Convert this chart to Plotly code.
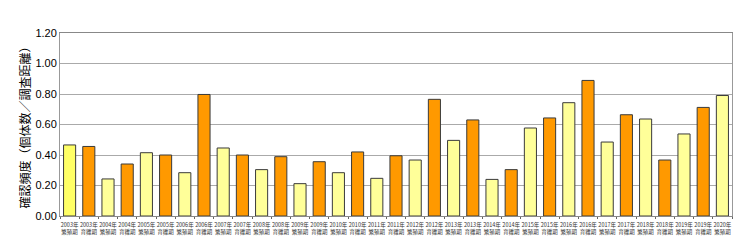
import plotly.graph_objects as go

years = [2003, 2003, 2004, 2004, 2005, 2005, 2006, 2006, 2007, 2007, 2008, 2008,
         2009, 2009, 2010, 2010, 2011, 2011, 2012, 2012, 2013, 2013, 2014, 2014,
         2015, 2015, 2016, 2016, 2017, 2017, 2018, 2018, 2019, 2019, 2020]
periods = ["繁殖期", "育雛期"] * 17 + ["繁殖期"]
categories = [f"{y}年<br>{p}" for y, p in zip(years, periods)]
values = [0.466, 0.456, 0.243, 0.341, 0.415, 0.400, 0.284, 0.797, 0.446, 0.400,
          0.304, 0.389, 0.212, 0.356, 0.284, 0.420, 0.247, 0.395, 0.367, 0.765,
          0.496, 0.630, 0.240, 0.304, 0.577, 0.643, 0.743, 0.889, 0.485, 0.664,
          0.636, 0.367, 0.538, 0.712, 0.790]
y_ticks = [0.0, 0.2, 0.4, 0.6, 0.8, 1.0, 1.2]

colors = []
for i, p in enumerate(periods):
    if p == "育雛期":
        colors.append("#FF9900")
    elif i == 0:
        colors.append("#FFFF66")
    else:
        colors.append("#FFFF99")

fig = go.Figure(go.Bar(
    x=categories, y=values,
    marker=dict(color=colors, line=dict(color="#3a3a3a", width=1)),
    width=0.63,
))

fig.update_layout(
    width=740, height=248,
    margin=dict(l=60, r=8, t=33, b=32),
    paper_bgcolor="white", plot_bgcolor="white",
    showlegend=False,
    font=dict(family="Liberation Sans, Noto Sans CJK JP", color="#000"),
)
fig.update_xaxes(
    type="category", tickangle=0, range=[-0.5, len(categories) - 0.5],
    tickfont=dict(size=5.5, family="Noto Sans CJK JP", color="#333"),
    showline=True, linecolor="#888", linewidth=1, mirror=True,
    ticks="outside", ticklen=2, tickcolor="#666", tickson="boundaries",
    ticklabelstandoff=3,
    showgrid=False,
)
fig.update_yaxes(
    range=[0, 1.2], tickvals=y_ticks, ticktext=[f"{v:.2f}" for v in y_ticks],
    tickfont=dict(size=11, family="Liberation Sans", color="#000"),
    showgrid=True, gridcolor="#aaaaaa", gridwidth=1,
    showline=True, linecolor="#999", linewidth=1, mirror=True,
    ticks="", ticklen=0,
    title=dict(text="確認頻度（個体数／調査距離）",
               font=dict(size=12, family="Noto Sans CJK JP", color="#000"),
               standoff=2),
    zeroline=False,
)

fig.write_html("out.html")
